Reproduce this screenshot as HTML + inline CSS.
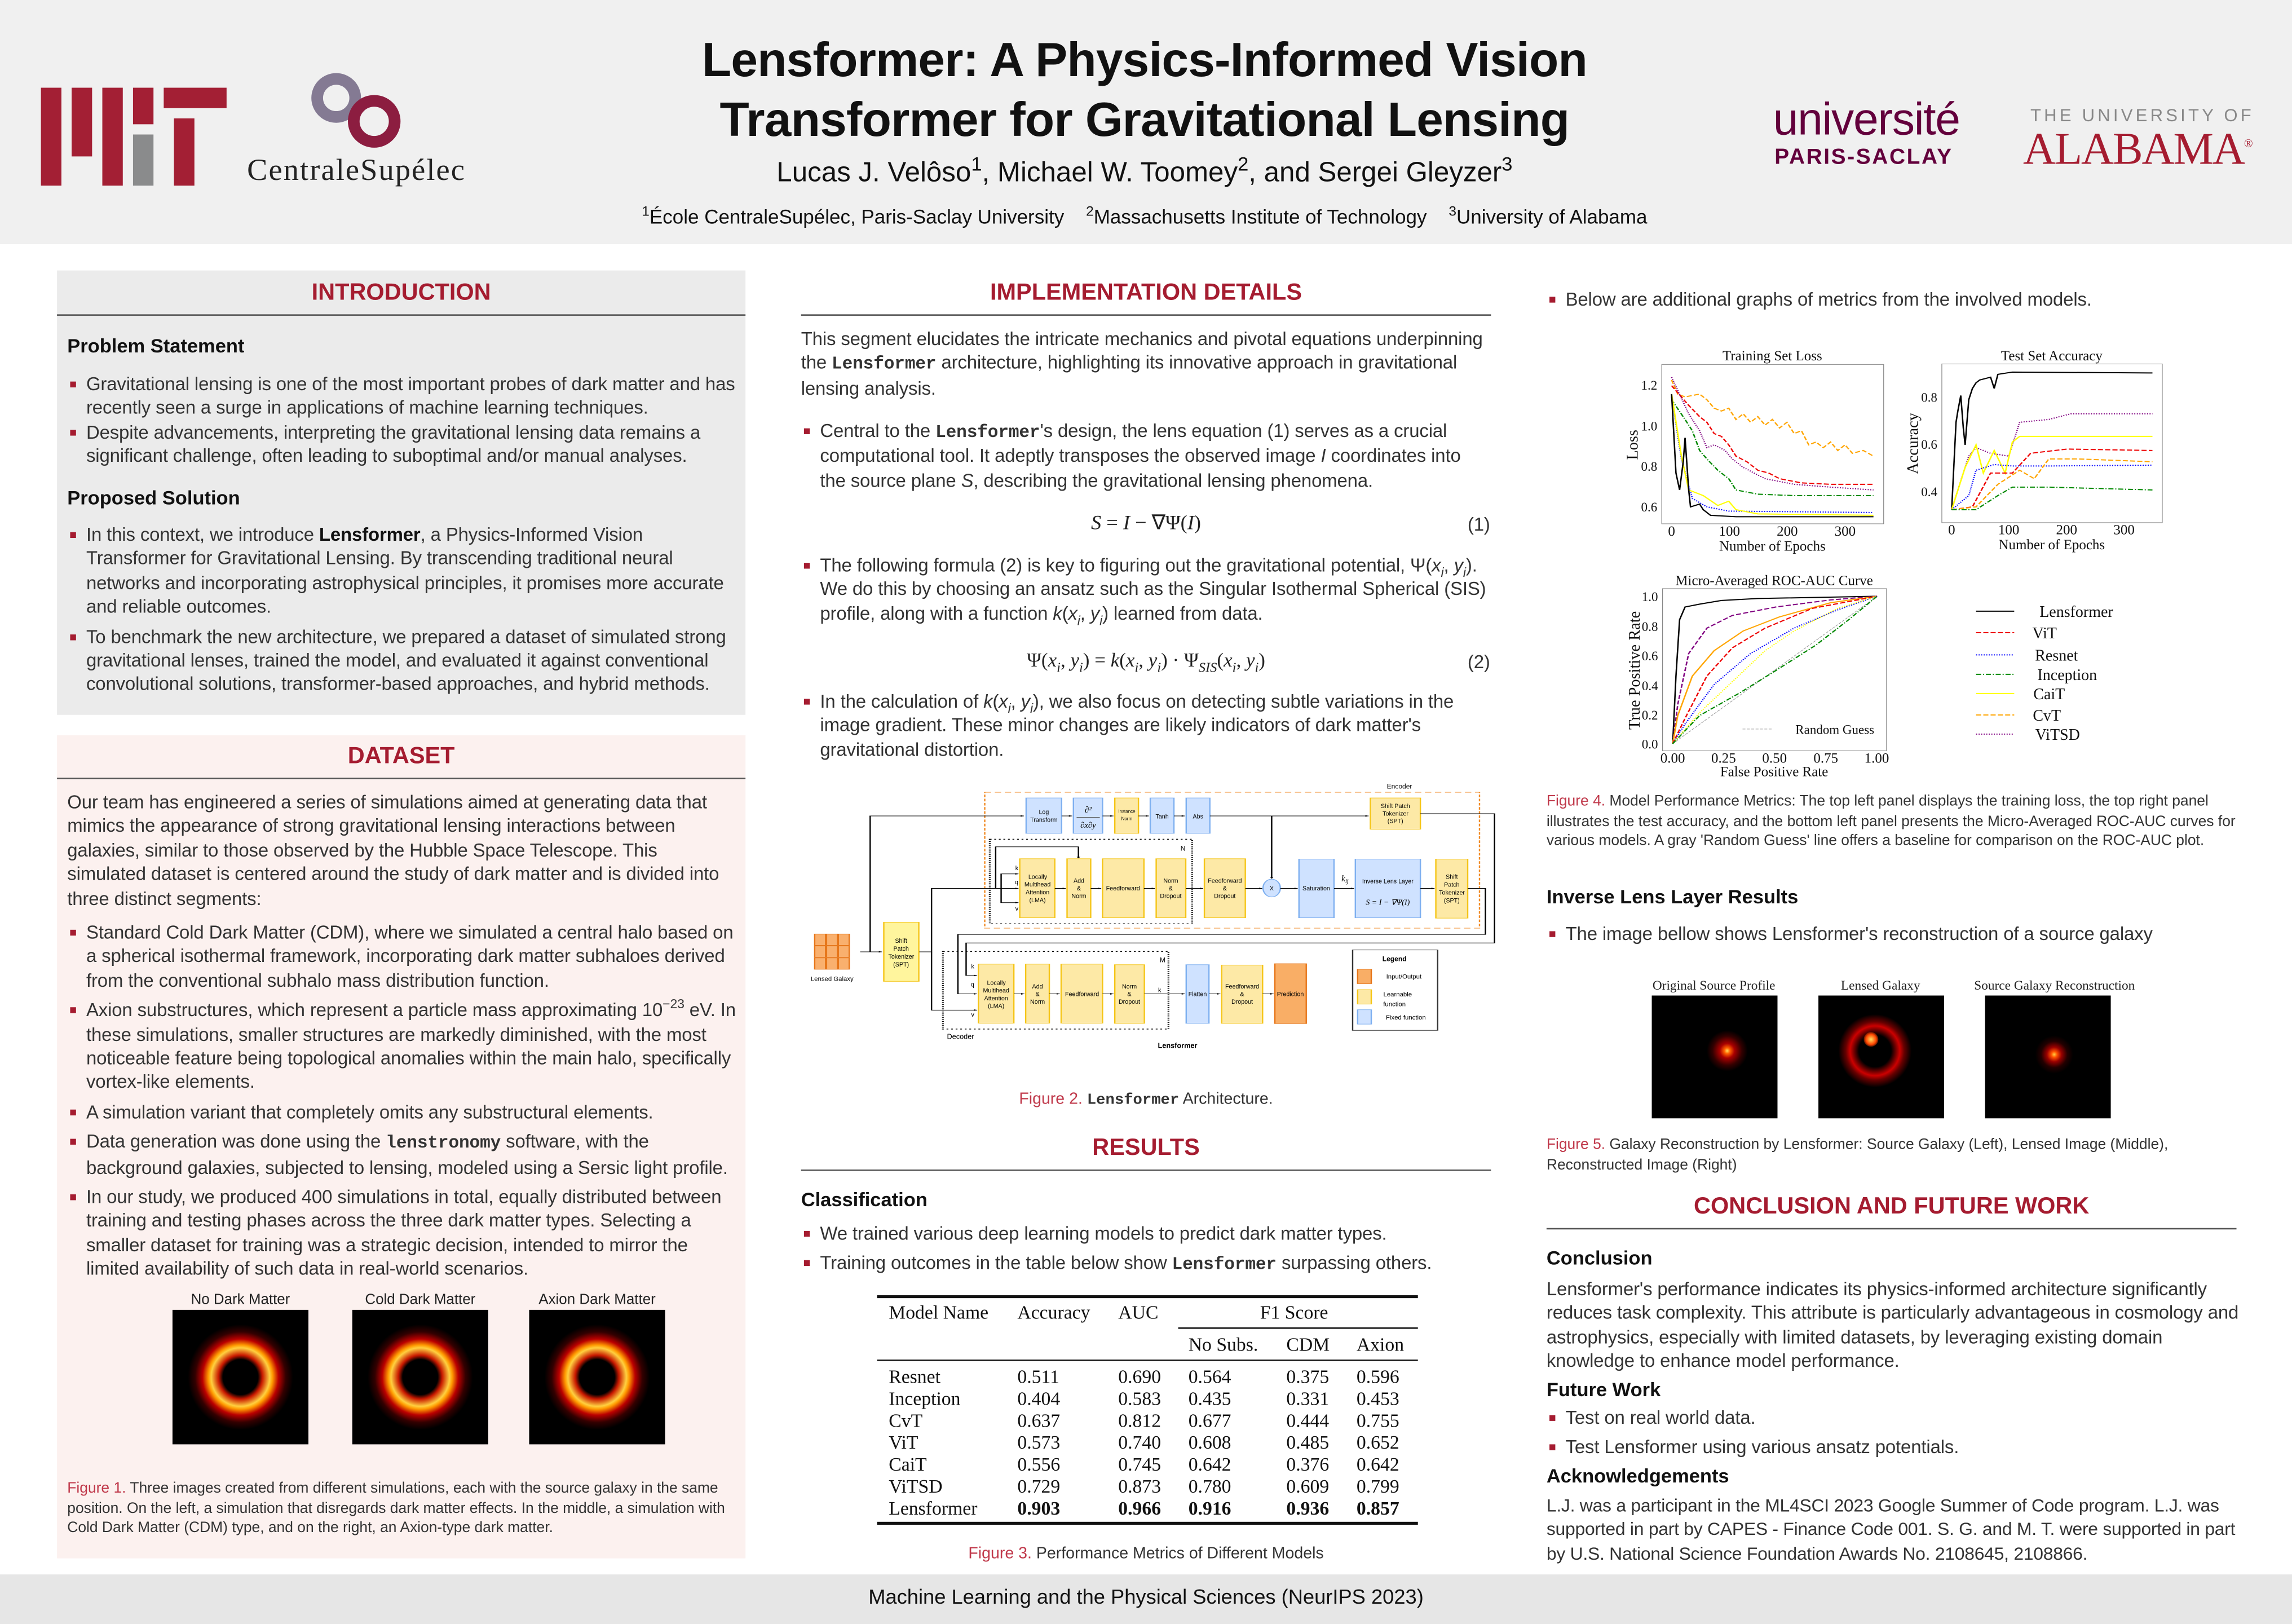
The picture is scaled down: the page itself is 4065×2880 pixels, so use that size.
<!DOCTYPE html>
<html><head><meta charset="utf-8">
<style>
html,body{margin:0;padding:0;background:#fff;}
#wrap{width:1568px;height:1111px;position:relative;transform:scale(2.5925);transform-origin:0 0;font-family:"Liberation Sans",sans-serif;color:#222;overflow:hidden;}
.a{position:absolute;}
.hdr{left:0;top:0;width:1568px;height:167px;background:#f0f0f0;}
.title{left:380px;width:806px;top:20px;text-align:center;font-weight:bold;font-size:33px;line-height:41px;color:#111;letter-spacing:-0.3px}
.sec{font-weight:bold;color:#a51c30;font-size:16px;text-align:center;}
.rule{height:1px;background:#555;}
.t{font-size:12.7px;line-height:16.4px;color:#333;letter-spacing:-0.05px}
.b{font-weight:bold;color:#111;font-size:13.3px;}
ul{margin:0;padding:0;list-style:none;}
li{position:relative;padding-left:13px;margin-bottom:4px;}
li:before{content:"";position:absolute;left:2px;top:6px;width:4px;height:4px;background:#a51c30;}
sub,sup{line-height:0;font-size:70%}
.cap{font-size:10.2px;line-height:13.5px;color:#333;}
.cap span.r{color:#c0394b}
code,.m{font-family:"Liberation Mono",monospace;font-weight:bold;font-size:12px}
.tbl{font-family:"Liberation Serif",serif;font-size:13px;color:#111;}
svg.d text{transform-box:fill-box;transform-origin:center;transform:scaleX(0.415)}
svg.p text{transform-box:fill-box;transform-origin:center;transform:scaleX(0.775)}
svg.p text.rot{transform:scaleX(1.29)}
</style></head><body><div id="wrap">
<div class="a hdr"></div>
<div class="a" style="left:28px;top:60px;width:14px;height:67px;background:#a31f34"></div>
<div class="a" style="left:49px;top:60px;width:14px;height:47px;background:#a31f34"></div>
<div class="a" style="left:70px;top:60px;width:14px;height:67px;background:#a31f34"></div>
<div class="a" style="left:91px;top:60px;width:14px;height:25px;background:#a31f34"></div>
<div class="a" style="left:91px;top:92px;width:14px;height:35px;background:#8a8b8c"></div>
<div class="a" style="left:112px;top:60px;width:43px;height:14px;background:#a31f34"></div>
<div class="a" style="left:119px;top:81px;width:14px;height:46px;background:#a31f34"></div>
<svg class="a" style="left:210px;top:45px" width="70" height="62" viewBox="0 0 70 62"><circle cx="20" cy="22" r="13" fill="none" stroke="#847a93" stroke-width="8"/><circle cx="46" cy="38" r="14" fill="none" stroke="#8c1d40" stroke-width="8"/></svg>
<div class="a" style="left:169px;top:104px;font-family:'Liberation Serif',serif;font-size:21px;color:#222;letter-spacing:0.8px">CentraleSupélec</div>
<div class="a title">Lensformer: A Physics-Informed Vision<br>Transformer for Gravitational Lensing</div>
<div class="a" style="left:380px;width:806px;top:108px;text-align:center;font-size:19px;color:#111">Lucas J. Velôso<sup>1</sup>, Michael W. Toomey<sup>2</sup>, and Sergei Gleyzer<sup>3</sup></div>
<div class="a" style="left:380px;width:806px;top:141px;text-align:center;font-size:13.5px;color:#111"><sup>1</sup>École CentraleSupélec, Paris-Saclay University &nbsp;&nbsp; <sup>2</sup>Massachusetts Institute of Technology &nbsp;&nbsp; <sup>3</sup>University of Alabama</div>
<div class="a" style="left:1213px;top:64px;font-size:31px;color:#63003c;letter-spacing:-0.5px">université</div>
<div class="a" style="left:1214px;top:99px;font-size:15px;font-weight:bold;color:#63003c;letter-spacing:1px">PARIS-SACLAY</div>
<div class="a" style="left:1389px;top:72px;font-size:12px;color:#888;letter-spacing:2px">THE UNIVERSITY OF</div>
<div class="a" style="left:1384px;top:84px;font-family:'Liberation Serif',serif;font-size:31px;color:#a51c30;letter-spacing:-0.8px">ALABAMA<sup style="font-size:8px">®</sup></div>

<!-- LEFT -->
<div class="a" style="left:39px;top:185px;width:471px;height:304px;background:#ebebeb"></div>
<div class="a sec" style="left:39px;width:471px;top:192px">INTRODUCTION</div>
<div class="a rule" style="left:39px;width:471px;top:215px"></div>
<div class="a b" style="left:46px;top:229px">Problem Statement</div>
<div class="a t" style="left:46px;top:255px;width:458px"><ul>
<li style="margin-bottom:0">Gravitational lensing is one of the most important probes of dark matter and has recently seen a surge in applications of machine learning techniques.</li>
<li style="margin-bottom:0">Despite advancements, interpreting the gravitational lensing data remains a significant challenge, often leading to suboptimal and/or manual analyses.</li></ul></div>
<div class="a b" style="left:46px;top:333px">Proposed Solution</div>
<div class="a t" style="left:46px;top:358px;width:460px"><ul>
<li>In this context, we introduce <b style="color:#111">Lensformer</b>, a Physics-Informed Vision Transformer for Gravitational Lensing. By transcending traditional neural networks and incorporating astrophysical principles, it promises more accurate and reliable outcomes.</li>
<li>To benchmark the new architecture, we prepared a dataset of simulated strong gravitational lenses, trained the model, and evaluated it against conventional convolutional solutions, transformer-based approaches, and hybrid methods.</li></ul></div>

<div class="a" style="left:39px;top:503px;width:471px;height:563px;background:#fcf1ef"></div>
<div class="a sec" style="left:39px;width:471px;top:509px">DATASET</div>
<div class="a rule" style="left:39px;width:471px;top:532px"></div>
<div class="a t" style="left:46px;top:541px;width:460px">Our team has engineered a series of simulations aimed at generating data that mimics the appearance of strong gravitational lensing interactions between galaxies, similar to those observed by the Hubble Space Telescope. This simulated dataset is centered around the study of dark matter and is divided into three distinct segments:</div>
<div class="a t" style="left:46px;top:630px;width:460px"><ul>
<li>Standard Cold Dark Matter (CDM), where we simulated a central halo based on a spherical isothermal framework, incorporating dark matter subhaloes derived from the conventional subhalo mass distribution function.</li>
<li>Axion substructures, which represent a particle mass approximating 10<sup>−23</sup> eV. In these simulations, smaller structures are markedly diminished, with the most noticeable feature being topological anomalies within the main halo, specifically vortex-like elements.</li>
<li>A simulation variant that completely omits any substructural elements.</li>
<li>Data generation was done using the <code>lenstronomy</code> software, with the background galaxies, subjected to lensing, modeled using a Sersic light profile.</li>
<li>In our study, we produced 400 simulations in total, equally distributed between training and testing phases across the three dark matter types. Selecting a smaller dataset for training was a strategic decision, intended to mirror the limited availability of such data in real-world scenarios.</li></ul></div>
<div class="a" style="left:108px;width:113px;top:884px;text-align:center;font-size:10px">No Dark Matter</div>
<div class="a" style="left:231px;width:113px;top:884px;text-align:center;font-size:10px">Cold Dark Matter</div>
<div class="a" style="left:352px;width:113px;top:884px;text-align:center;font-size:10px">Axion Dark Matter</div>
<div class="a" style="left:118px;top:896px;width:93px;height:92px;background:radial-gradient(circle at 50% 50%,#000 0,#000 12px,#c81800 15px,#ffd040 20px,#ff9a00 22px,#b00 26px,#300 31px,#000 36px)"></div>
<div class="a" style="left:241px;top:896px;width:93px;height:92px;background:radial-gradient(circle at 50% 50%,#000 0,#000 12px,#c81800 15px,#ffd040 20px,#ff9a00 22px,#b00 26px,#300 31px,#000 36px)"></div>
<div class="a" style="left:362px;top:896px;width:93px;height:92px;background:radial-gradient(circle at 50% 50%,#000 0,#000 12px,#c81800 15px,#ffd040 20px,#ff9a00 22px,#b00 26px,#300 31px,#000 36px)"></div>
<div class="a cap" style="left:46px;top:1012px;width:460px"><span class="r">Figure 1.</span> Three images created from different simulations, each with the source galaxy in the same position. On the left, a simulation that disregards dark matter effects. In the middle, a simulation with Cold Dark Matter (CDM) type, and on the right, an Axion-type dark matter.</div>

<!-- MIDDLE -->
<div class="a sec" style="left:548px;width:472px;top:192px">IMPLEMENTATION DETAILS</div>
<div class="a rule" style="left:548px;width:472px;top:215px"></div>
<div class="a t" style="left:548px;top:224px;width:472px">This segment elucidates the intricate mechanics and pivotal equations underpinning the <code>Lensformer</code> architecture, highlighting its innovative approach in gravitational lensing analysis.</div>
<div class="a t" style="left:548px;top:287px;width:472px"><ul><li>Central to the <code>Lensformer</code>'s design, the lens equation (1) serves as a crucial computational tool. It adeptly transposes the observed image <i>I</i> coordinates into the source plane <i>S</i>, describing the gravitational lensing phenomena.</li></ul></div>
<div class="a" style="left:548px;width:472px;top:350px;text-align:center;font-family:'Liberation Serif',serif;font-size:14px"><i>S</i> = <i>I</i> − ∇Ψ(<i>I</i>)</div>
<div class="a t" style="left:1004px;top:351px">(1)</div>
<div class="a t" style="left:548px;top:379px;width:472px"><ul><li>The following formula (2) is key to figuring out the gravitational potential, Ψ(<i>x<sub>i</sub></i>, <i>y<sub>i</sub></i>). We do this by choosing an ansatz such as the Singular Isothermal Spherical (SIS) profile, along with a function <i>k</i>(<i>x<sub>i</sub></i>, <i>y<sub>i</sub></i>) learned from data.</li></ul></div>
<div class="a" style="left:548px;width:472px;top:444px;text-align:center;font-family:'Liberation Serif',serif;font-size:13.5px">Ψ(<i>x<sub>i</sub></i>, <i>y<sub>i</sub></i>) = <i>k</i>(<i>x<sub>i</sub></i>, <i>y<sub>i</sub></i>) · Ψ<sub><i>SIS</i></sub>(<i>x<sub>i</sub></i>, <i>y<sub>i</sub></i>)</div>
<div class="a t" style="left:1004px;top:445px">(2)</div>
<div class="a t" style="left:548px;top:472px;width:472px"><ul><li>In the calculation of <i>k</i>(<i>x<sub>i</sub></i>, <i>y<sub>i</sub></i>), we also focus on detecting subtle variations in the image gradient. These minor changes are likely indicators of dark matter's gravitational distortion.</li></ul></div>

<svg class="a d" style="left:547.7px;top:532.3px" width="482.2" height="189" viewBox="0 0 1550 1460" preserveAspectRatio="none" font-family="Liberation Sans, sans-serif">
<defs><marker id="ar" markerWidth="8" markerHeight="8" refX="7" refY="4" orient="auto" markerUnits="userSpaceOnUse"><path d="M0,0 L8,4 L0,8z" fill="#000"/></marker></defs>
<g font-size="32" text-anchor="middle">
<rect x="404" y="77" width="1088" height="718" fill="none" stroke="#f08a24" stroke-width="3" stroke-dasharray="14,8"/>
<text x="1316" y="58" font-size="36">Encoder</text>
<rect x="415" y="325" width="445" height="447" fill="none" stroke="#000" stroke-width="4" stroke-dasharray="4,6"/>
<text x="840" y="385" font-size="36">N</text>
<rect x="312" y="918" width="496" height="410" fill="none" stroke="#000" stroke-width="4" stroke-dasharray="4,6"/>
<text x="795" y="975" font-size="36">M</text>
<g fill="#cfe2ff" stroke="#7fb0f0" stroke-width="3">
<rect x="495" y="107" width="78" height="187"/><rect x="599" y="107" width="64" height="187"/><rect x="768" y="107" width="52" height="187"/><rect x="847" y="107" width="52" height="187"/>
<rect x="1095" y="430" width="77" height="310"/><rect x="1219" y="430" width="143" height="310"/>
<rect x="847" y="988" width="50" height="310"/>
</g>
<g fill="#fde9a6" stroke="#f5c518" stroke-width="3">
<rect x="690" y="107" width="52" height="187"/><rect x="1252" y="107" width="110" height="165"/>
<rect x="481" y="428" width="77" height="312"/><rect x="585" y="428" width="52" height="312"/><rect x="663" y="428" width="91" height="312"/><rect x="781" y="428" width="65" height="312"/><rect x="887" y="428" width="90" height="312"/><rect x="1396" y="430" width="70" height="312"/>
<rect x="182" y="764" width="77" height="312" fill="#fff59d"/>
<rect x="390" y="985" width="78" height="312"/><rect x="494" y="985" width="52" height="312"/><rect x="572" y="985" width="91" height="312"/><rect x="690" y="988" width="65" height="310"/><rect x="925" y="990" width="90" height="308"/>
</g>
<rect x="1042" y="983" width="69" height="316" fill="#f9ae66" stroke="#e6761a" stroke-width="3"/>
<g fill="#f9b06e" stroke="#e6761a" stroke-width="3"><rect x="30" y="826" width="24" height="60"/><rect x="56" y="826" width="24" height="60"/><rect x="82" y="826" width="24" height="60"/><rect x="30" y="889" width="24" height="60"/><rect x="56" y="889" width="24" height="60"/><rect x="82" y="889" width="24" height="60"/><rect x="30" y="952" width="24" height="60"/><rect x="56" y="952" width="24" height="60"/><rect x="82" y="952" width="24" height="60"/></g>
<ellipse cx="1035" cy="583" rx="19" ry="47" fill="#cfe2ff" stroke="#7fb0f0" stroke-width="3"/>
<g fill="none" stroke="#000" stroke-width="3" marker-end="url(#ar)">
<path d="M130,920 H178"/><path d="M152,920 V202 H490"/><path d="M573,202 H596"/><path d="M663,202 H687"/><path d="M742,202 H765"/><path d="M820,202 H844"/><path d="M899,202 H1248"/><path d="M1035,202 V532"/>
<path d="M260,920 H287 V585 H478"/><path d="M428,585 V365 H610 V425"/><path d="M440,585 V508 H478"/><path d="M440,585 V660 H478"/>
<path d="M558,585 H582"/><path d="M637,585 H660"/><path d="M754,585 H778"/><path d="M846,585 H884"/><path d="M977,585 H1014"/><path d="M1054,585 H1092"/><path d="M1172,585 H1216"/><path d="M1362,585 H1393"/>
<path d="M1466,585 H1505 V828 H345 V1142 H387"/><path d="M1362,190 H1525 V873 H363 V1045 H387"/><path d="M287,920 V1228 H387"/>
<path d="M468,1142 H491"/><path d="M546,1142 H569"/><path d="M663,1142 H687"/><path d="M755,1142 H844"/><path d="M897,1142 H922"/><path d="M1015,1142 H1039"/>
</g>
<g font-size="32">
<text x="534" y="192">Log</text><text x="534" y="234">Transform</text>
<text x="631" y="184" font-family="Liberation Serif" font-style="italic" font-size="46">∂²</text><line x1="606" y1="210" x2="657" y2="210" stroke="#555" stroke-width="3"/><text x="631" y="265" font-family="Liberation Serif" font-style="italic" font-size="44">∂x∂y</text>
<text x="716" y="186" font-size="24">Instance</text><text x="716" y="224" font-size="24">Norm</text>
<text x="794" y="215">Tanh</text><text x="873" y="215">Abs</text>
<text x="1307" y="160">Shift Patch</text><text x="1307" y="200">Tokenizer</text><text x="1307" y="240">(SPT)</text>
<text x="520" y="534">Locally</text><text x="520" y="574">Multihead</text><text x="520" y="616">Attention</text><text x="520" y="658">(LMA)</text>
<text x="611" y="555">Add</text><text x="611" y="596">&amp;</text><text x="611" y="636">Norm</text>
<text x="708" y="596">Feedforward</text>
<text x="813" y="555">Norm</text><text x="813" y="596">&amp;</text><text x="813" y="636">Dropout</text>
<text x="932" y="555">Feedforward</text><text x="932" y="596">&amp;</text><text x="932" y="636">Dropout</text>
<text x="1035" y="595">X</text><text x="1133" y="596">Saturation</text>
<text x="1196" y="548" font-family="Liberation Serif" font-style="italic" font-size="46">k<tspan font-size="30" dy="8">ij</tspan></text>
<text x="1290" y="558">Inverse Lens Layer</text><text x="1290" y="672" font-family="Liberation Serif" font-style="italic" font-size="42">S = I − ∇Ψ(I)</text>
<text x="1431" y="534">Shift</text><text x="1431" y="576">Patch</text><text x="1431" y="618">Tokenizer</text><text x="1431" y="660">(SPT)</text>
<text x="220" y="872">Shift</text><text x="220" y="914">Patch</text><text x="220" y="956">Tokenizer</text><text x="220" y="998">(SPT)</text>
<text x="68" y="1074" font-size="34">Lensed Galaxy</text>
<text x="474" y="488">k</text><text x="474" y="563">q</text><text x="474" y="703">v</text>
<text x="377" y="1008">k</text><text x="377" y="1103">q</text><text x="377" y="1263">v</text><text x="788" y="1133">k</text>
<text x="429" y="1094">Locally</text><text x="429" y="1134">Multihead</text><text x="429" y="1176">Attention</text><text x="429" y="1216">(LMA)</text>
<text x="520" y="1114">Add</text><text x="520" y="1154">&amp;</text><text x="520" y="1194">Norm</text>
<text x="618" y="1154">Feedforward</text>
<text x="722" y="1114">Norm</text><text x="722" y="1154">&amp;</text><text x="722" y="1194">Dropout</text>
<text x="872" y="1154">Flatten</text>
<text x="970" y="1114">Feedforward</text><text x="970" y="1154">&amp;</text><text x="970" y="1194">Dropout</text>
<text x="1076" y="1154">Prediction</text>
<text x="350" y="1380" font-size="38">Decoder</text>
<text x="828" y="1428" font-size="38" font-weight="bold">Lensformer</text>
</g>
<rect x="1213" y="910" width="187" height="425" fill="#fff" stroke="#333" stroke-width="3"/>
<text x="1305" y="970" font-size="36" font-weight="bold" text-anchor="middle">Legend</text>
<rect x="1224" y="1012" width="30" height="76" fill="#f9ae66" stroke="#e6761a" stroke-width="3"/><text x="1325" y="1062" font-size="34" text-anchor="middle">Input/Output</text>
<rect x="1224" y="1120" width="30" height="76" fill="#fde9a6" stroke="#f5c518" stroke-width="3"/><text x="1312" y="1155" font-size="34" text-anchor="middle">Learnable</text><text x="1305" y="1208" font-size="34" text-anchor="middle">function</text>
<rect x="1224" y="1226" width="30" height="76" fill="#cfe2ff" stroke="#7fb0f0" stroke-width="3"/><text x="1330" y="1278" font-size="34" text-anchor="middle">Fixed function</text>
</svg>
<div class="a cap" style="left:548px;width:472px;top:746px;text-align:center;font-size:11px"><span class="r">Figure 2.</span> <span class="m" style="font-size:10.5px">Lensformer</span> Architecture.</div>

<div class="a sec" style="left:548px;width:472px;top:777px">RESULTS</div>
<div class="a rule" style="left:548px;width:472px;top:800px"></div>
<div class="a b" style="left:548px;top:813px">Classification</div>
<div class="a t" style="left:548px;top:836px;width:472px"><ul><li>We trained various deep learning models to predict dark matter types.</li><li>Training outcomes in the table below show <code>Lensformer</code> surpassing others.</li></ul></div>
<div class="a tbl" style="left:600px;top:886px;width:370px;height:157px">
<div class="a" style="left:0;top:0;width:370px;height:1.5px;background:#111"></div>
<div class="a" style="left:8px;top:4px">Model Name</div><div class="a" style="left:96px;top:4px">Accuracy</div><div class="a" style="left:165px;top:4px">AUC</div><div class="a" style="left:262px;top:4px">F1 Score</div>
<div class="a" style="left:206px;top:22px;width:164px;height:1px;background:#111"></div>
<div class="a" style="left:213px;top:26px">No Subs.</div><div class="a" style="left:280px;top:26px">CDM</div><div class="a" style="left:328px;top:26px">Axion</div>
<div class="a" style="left:0;top:44px;width:370px;height:1px;background:#111"></div>
<div class="a" style="left:8px;top:48px;line-height:15px">Resnet<br>Inception<br>CvT<br>ViT<br>CaiT<br>ViTSD<br>Lensformer</div>
<div class="a" style="left:96px;top:48px;line-height:15px">0.511<br>0.404<br>0.637<br>0.573<br>0.556<br>0.729<br><b>0.903</b></div>
<div class="a" style="left:165px;top:48px;line-height:15px">0.690<br>0.583<br>0.812<br>0.740<br>0.745<br>0.873<br><b>0.966</b></div>
<div class="a" style="left:213px;top:48px;line-height:15px">0.564<br>0.435<br>0.677<br>0.608<br>0.642<br>0.780<br><b>0.916</b></div>
<div class="a" style="left:280px;top:48px;line-height:15px">0.375<br>0.331<br>0.444<br>0.485<br>0.376<br>0.609<br><b>0.936</b></div>
<div class="a" style="left:328px;top:48px;line-height:15px">0.596<br>0.453<br>0.755<br>0.652<br>0.642<br>0.799<br><b>0.857</b></div>
<div class="a" style="left:0;top:155px;width:370px;height:1.5px;background:#111"></div>
</div>
<div class="a cap" style="left:548px;width:472px;top:1057px;text-align:center;font-size:11px"><span class="r">Figure 3.</span> Performance Metrics of Different Models</div>

<!-- RIGHT -->
<div class="a t" style="left:1058px;top:197px;width:472px"><ul><li>Below are additional graphs of metrics from the involved models.</li></ul></div>
<svg class="a p" style="left:1103.2px;top:231.4px" width="385.7" height="300.9" viewBox="0 0 1550 1560" preserveAspectRatio="none" font-family="Liberation Serif, serif">
<g fill="none" stroke="#888" stroke-width="2"><rect x="136" y="95" width="610" height="565"/><rect x="906" y="93" width="606" height="563"/><rect x="138" y="890" width="616" height="575"/></g>
<g font-size="50" text-anchor="middle" fill="#111">
<text x="440" y="80">Training Set Loss</text><text x="1208" y="80">Test Set Accuracy</text><text x="445" y="877">Micro-Averaged ROC-AUC Curve</text>
<text x="440" y="755">Number of Epochs</text><text x="1208" y="750">Number of Epochs</text><text x="445" y="1555">False Positive Rate</text>
<text x="163" y="702">0</text><text x="322" y="702">100</text><text x="481" y="702">200</text><text x="640" y="702">300</text>
<text x="933" y="697">0</text><text x="1090" y="697">100</text><text x="1249" y="697">200</text><text x="1407" y="697">300</text>
<text x="166" y="1507">0.00</text><text x="306" y="1507">0.25</text><text x="446" y="1507">0.50</text><text x="587" y="1507">0.75</text><text x="727" y="1507">1.00</text>
</g>
<g font-size="46" text-anchor="end" fill="#111">
<text x="130" y="184">1.2</text><text x="130" y="329">1.0</text><text x="130" y="472">0.8</text><text x="130" y="616">0.6</text>
<text x="900" y="227">0.8</text><text x="900" y="394">0.6</text><text x="900" y="562">0.4</text>
<text x="132" y="934">1.0</text><text x="132" y="1040">0.8</text><text x="132" y="1144">0.6</text><text x="132" y="1250">0.4</text><text x="132" y="1354">0.2</text><text x="132" y="1457">0.0</text>
</g>
<g font-size="44" fill="#111"><g transform="translate(70,380) rotate(-90)"><text class="rot" text-anchor="middle">Loss</text></g><g transform="translate(840,375) rotate(-90)"><text class="rot" text-anchor="middle">Accuracy</text></g><g transform="translate(75,1180) rotate(-90)"><text class="rot" text-anchor="middle">True Positive Rate</text></g></g>
<g fill="none" stroke-width="4">
<polyline stroke="#ffa500" stroke-dasharray="14,6" points="163,150 180,200 200,210 240,200 260,220 280,250 300,260 320,250 340,290 360,270 380,300 400,280 420,310 440,290 460,320 480,300 500,340 520,330 540,380 560,370 580,390 600,370 620,400 640,380 660,410 690,400 718,420"/>
<polyline stroke="#e00" stroke-dasharray="14,6" points="163,170 210,240 240,280 260,300 280,340 300,350 320,380 340,420 370,440 400,470 430,480 460,500 520,515 600,520 718,520"/>
<polyline stroke="#800080" stroke-dasharray="3,4" points="163,140 210,270 240,330 260,390 280,380 310,400 330,430 360,460 420,500 500,520 600,530 718,540"/>
<polyline stroke="#080" stroke-dasharray="14,5,3,5" points="163,220 200,290 220,330 240,400 260,430 290,470 320,500 340,540 400,555 500,560 718,560"/>
<polyline stroke="#00f" stroke-dasharray="3,4" points="163,210 190,430 220,570 260,600 320,615 718,620"/>
<polyline stroke="#ff0" points="163,200 190,420 210,540 250,560 290,595 320,580 340,610 400,625 718,630"/>
<polyline stroke="#000" points="163,200 175,480 185,540 195,440 200,355 210,540 215,600 240,590 250,610 270,630 340,635 718,635"/>
<polyline stroke="#000" points="933,610 945,300 950,260 958,205 965,320 970,380 980,220 990,180 1000,160 1010,150 1040,140 1050,180 1060,130 1100,122 1485,125"/>
<polyline stroke="#800080" stroke-dasharray="3,4" points="933,610 960,500 980,420 1000,390 1040,410 1090,420 1120,300 1200,290 1260,270 1485,270"/>
<polyline stroke="#ff0" points="933,610 970,460 1000,380 1020,480 1050,400 1080,480 1100,370 1120,350 1485,350"/>
<polyline stroke="#e00" stroke-dasharray="14,6" points="933,610 990,600 1040,480 1100,480 1150,410 1250,395 1485,400"/>
<polyline stroke="#00f" stroke-dasharray="3,4" points="933,610 980,560 1000,470 1050,450 1100,455 1200,455 1485,452"/>
<polyline stroke="#ffa500" stroke-dasharray="14,6" points="933,610 1000,600 1060,520 1120,470 1160,500 1200,430 1280,430 1485,440"/>
<polyline stroke="#080" stroke-dasharray="14,5,3,5" points="933,610 1000,610 1060,560 1100,530 1200,530 1485,540"/>
<line x1="166" y1="1440" x2="728" y2="917" stroke="#999" stroke-width="2" stroke-dasharray="8,4"/>
<polyline stroke="#000" points="166,1440 175,1200 185,1000 200,955 240,945 300,932 400,925 728,917"/>
<polyline stroke="#800080" stroke-dasharray="14,6" points="166,1440 180,1300 210,1120 260,1030 330,985 450,955 600,930 728,917"/>
<polyline stroke="#ffa500" points="166,1440 180,1340 220,1200 280,1110 360,1040 460,990 600,940 728,917"/>
<polyline stroke="#e00" stroke-dasharray="14,6" points="166,1440 200,1350 260,1200 330,1100 420,1030 550,960 728,917"/>
<polyline stroke="#00f" stroke-dasharray="3,4" points="166,1440 200,1370 280,1230 380,1120 500,1030 620,965 728,917"/>
<polyline stroke="#ff0" stroke-dasharray="3,4" points="166,1440 240,1330 330,1220 420,1110 500,1040 620,960 728,917"/>
<polyline stroke="#080" stroke-dasharray="14,5,3,5" points="166,1440 240,1340 350,1260 450,1180 560,1090 650,1000 728,917"/>
<line x1="358" y1="1388" x2="440" y2="1388" stroke="#999" stroke-width="2" stroke-dasharray="8,4"/>
<line x1="1000" y1="970" x2="1105" y2="970" stroke="#000"/>
<line x1="1000" y1="1046" x2="1105" y2="1046" stroke="#e00" stroke-dasharray="14,6"/>
<line x1="1000" y1="1125" x2="1105" y2="1125" stroke="#00f" stroke-dasharray="3,4"/>
<line x1="1000" y1="1194" x2="1105" y2="1194" stroke="#080" stroke-dasharray="14,5,3,5"/>
<line x1="1000" y1="1262" x2="1105" y2="1262" stroke="#ff0"/>
<line x1="1000" y1="1338" x2="1105" y2="1338" stroke="#ffa500" stroke-dasharray="14,6"/>
<line x1="1000" y1="1406" x2="1105" y2="1406" stroke="#800080" stroke-dasharray="3,4"/>
</g>
<g font-size="56" fill="#111"><text x="1145" y="990">Lensformer</text><text x="1145" y="1066">ViT</text><text x="1145" y="1145">Resnet</text><text x="1145" y="1214">Inception</text><text x="1145" y="1282">CaiT</text><text x="1145" y="1358">CvT</text><text x="1145" y="1426">ViTSD</text><text x="472" y="1405" font-size="46">Random Guess</text></g>
</svg>
<div class="a cap" style="left:1058px;top:542px;width:472px"><span class="r">Figure 4.</span> Model Performance Metrics: The top left panel displays the training loss, the top right panel illustrates the test accuracy, and the bottom left panel presents the Micro-Averaged ROC-AUC curves for various models. A gray 'Random Guess' line offers a baseline for comparison on the ROC-AUC plot.</div>
<div class="a b" style="left:1058px;top:606px">Inverse Lens Layer Results</div>
<div class="a t" style="left:1058px;top:631px;width:472px"><ul><li>The image bellow shows Lensformer's reconstruction of a source galaxy</li></ul></div>
<div class="a" style="left:1110px;width:125px;top:669px;text-align:center;font-family:'Liberation Serif',serif;font-size:9px">Original Source Profile</div>
<div class="a" style="left:1224px;width:125px;top:669px;text-align:center;font-family:'Liberation Serif',serif;font-size:9px">Lensed Galaxy</div>
<div class="a" style="left:1338px;width:135px;top:669px;text-align:center;font-family:'Liberation Serif',serif;font-size:9px">Source Galaxy Reconstruction</div>
<div class="a" style="left:1130px;top:681px;width:86px;height:84px;background:radial-gradient(circle at 60% 45%,#ffe060 0,#ff6000 2px,#a00 5px,#300 10px,#000 14px)"></div>
<div class="a" style="left:1244px;top:681px;width:86px;height:84px;background:radial-gradient(circle at 45% 45%,#000 0,#000 11px,#600 14px,#c00 17px,#600 20px,#000 25px)"></div>
<div class="a" style="left:1275px;top:706px;width:10px;height:10px;border-radius:50%;background:radial-gradient(#ffe060,#f40 50%,transparent 80%)"></div>
<div class="a" style="left:1358px;top:681px;width:86px;height:84px;background:radial-gradient(circle at 55% 48%,#ffd040 0,#ff5000 2px,#900 5px,#200 9px,#000 13px)"></div>
<div class="a cap" style="left:1058px;top:777px;width:472px"><span class="r">Figure 5.</span> Galaxy Reconstruction by Lensformer: Source Galaxy (Left), Lensed Image (Middle), Reconstructed Image (Right)</div>
<div class="a sec" style="left:1058px;width:472px;top:817px">CONCLUSION AND FUTURE WORK</div>
<div class="a rule" style="left:1058px;width:472px;top:840px"></div>
<div class="a b" style="left:1058px;top:853px">Conclusion</div>
<div class="a t" style="left:1058px;top:874px;width:474px">Lensformer's performance indicates its physics-informed architecture significantly reduces task complexity. This attribute is particularly advantageous in cosmology and astrophysics, especially with limited datasets, by leveraging existing domain knowledge to enhance model performance.</div>
<div class="a b" style="left:1058px;top:943px">Future Work</div>
<div class="a t" style="left:1058px;top:962px;width:472px"><ul><li>Test on real world data.</li><li>Test Lensformer using various ansatz potentials.</li></ul></div>
<div class="a b" style="left:1058px;top:1002px">Acknowledgements</div>
<div class="a t" style="left:1058px;top:1022px;width:478px;font-size:12.3px;letter-spacing:-0.1px">L.J. was a participant in the ML4SCI 2023 Google Summer of Code program. L.J. was supported in part by CAPES - Finance Code 001. S. G. and M. T. were supported in part by U.S. National Science Foundation Awards No. 2108645, 2108866.</div>

<div class="a" style="left:0;top:1077px;width:1568px;height:34px;background:#e6e6e6"></div>
<div class="a" style="left:0;width:1568px;top:1084px;text-align:center;font-size:14px;color:#111">Machine Learning and the Physical Sciences (NeurIPS 2023)</div>
</div></body></html>
